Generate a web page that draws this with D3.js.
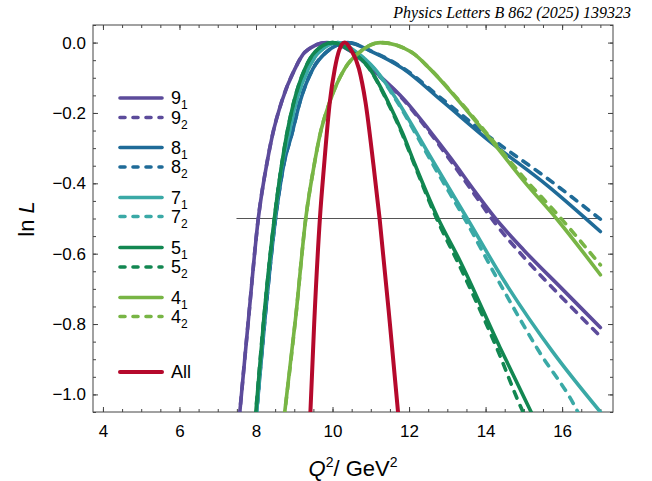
<!DOCTYPE html>
<html>
  <head>
    <meta charset="utf-8" />
    <title>ln L vs Q2</title>
    <script src="https://d3js.org/d3.v7.min.js"></script>
    <style>
      body {
        margin: 0;
        background: #fff;
      }
      text {
        font-family: "Liberation Sans", Arial, sans-serif;
      }
    </style>
  </head>
  <body>

    <svg id="chart"></svg>

    <script>

      // tick labels
      var xTickValues = [4, 6, 8, 10, 12, 14, 16];
      var yTickValues = [0, -0.2, -0.4, -0.6, -0.8, -1.0];

      // series: [Q^2, ln L]
      var s9_1 = [[7.56,-1.07],[7.81,-0.778],[8.06,-0.5],[8.30,-0.334],[8.43,-0.263],[8.67,-0.168],[9.02,-0.074],[9.28,-0.027],[9.85,0],[10.5,-0.025],[11.02,-0.074],[11.9,-0.165],[12.5,-0.245],[13.1,-0.33],[13.7,-0.42],[14.26,-0.5],[15.0,-0.59],[16.0,-0.70],[17.0,-0.81]];
      var s9_2 = [[7.56,-1.07],[7.81,-0.778],[8.06,-0.5],[8.30,-0.334],[8.43,-0.263],[8.67,-0.168],[9.02,-0.074],[9.28,-0.027],[9.85,0],[10.5,-0.026],[11.02,-0.076],[11.9,-0.168],[12.5,-0.25],[13.1,-0.338],[13.7,-0.43],[14.26,-0.515],[15.0,-0.61],[16.0,-0.725],[17.0,-0.835]];
      var s8_1 = [[8.0,-1.07],[8.24,-0.778],[8.51,-0.5],[8.75,-0.334],[8.93,-0.263],[9.15,-0.168],[9.49,-0.074],[9.84,-0.027],[10.4,0],[11.05,-0.027],[11.84,-0.074],[12.86,-0.166],[14.1,-0.28],[15.6,-0.405],[17.0,-0.537]];
      var s8_2 = [[8.0,-1.07],[8.24,-0.778],[8.51,-0.5],[8.75,-0.334],[8.93,-0.263],[9.15,-0.168],[9.49,-0.074],[9.84,-0.027],[10.4,0],[11.05,-0.026],[11.84,-0.072],[12.86,-0.16],[14.1,-0.268],[15.6,-0.385],[17.0,-0.502]];
      var s7_1 = [[8.0,-1.07],[8.22,-0.778],[8.49,-0.5],[8.70,-0.334],[8.85,-0.263],[9.05,-0.168],[9.37,-0.074],[9.65,-0.027],[10.15,0],[10.6,-0.025],[11.1,-0.074],[11.71,-0.168],[12.23,-0.263],[12.67,-0.345],[13.52,-0.5],[14.5,-0.68],[15.76,-0.88],[17.0,-1.05]];
      var s7_2 = [[8.0,-1.07],[8.22,-0.778],[8.49,-0.5],[8.70,-0.334],[8.85,-0.263],[9.05,-0.168],[9.37,-0.074],[9.65,-0.027],[10.15,0],[10.6,-0.026],[11.1,-0.076],[11.71,-0.172],[12.23,-0.27],[12.67,-0.355],[13.45,-0.5],[14.4,-0.69],[15.37,-0.873],[16.41,-1.05],[16.5,-1.07]];
      var s5_1 = [[7.98,-1.07],[8.21,-0.778],[8.48,-0.5],[8.67,-0.348],[8.80,-0.263],[8.99,-0.168],[9.28,-0.074],[9.54,-0.027],[10.0,0],[10.5,-0.025],[10.97,-0.074],[11.45,-0.168],[11.84,-0.26],[12.15,-0.345],[12.76,-0.5],[13.32,-0.618],[14.37,-0.865],[15.19,-1.05],[15.28,-1.07]];
      var s5_2 = [[7.98,-1.07],[8.21,-0.778],[8.48,-0.5],[8.67,-0.348],[8.80,-0.263],[8.99,-0.168],[9.28,-0.074],[9.54,-0.027],[10.0,0],[10.5,-0.026],[10.97,-0.076],[11.45,-0.172],[11.84,-0.265],[12.15,-0.35],[12.74,-0.505],[13.3,-0.63],[14.3,-0.87],[14.98,-1.05],[15.07,-1.07]];
      var s4_1 = [[8.73,-1.07],[9.04,-0.778],[9.30,-0.5],[9.52,-0.348],[9.67,-0.263],[9.93,-0.168],[10.32,-0.074],[10.71,-0.027],[11.25,0],[12.06,-0.027],[12.54,-0.074],[13.3,-0.166],[14.24,-0.29],[15.05,-0.4],[15.85,-0.5],[17.0,-0.66]];
      var s4_2 = [[8.73,-1.07],[9.04,-0.778],[9.30,-0.5],[9.52,-0.348],[9.67,-0.263],[9.93,-0.168],[10.32,-0.074],[10.71,-0.027],[11.25,0],[12.06,-0.027],[12.54,-0.074],[13.3,-0.164],[14.24,-0.285],[15.05,-0.39],[15.85,-0.485],[17.0,-0.632]];
      var sAll = [[9.41,-1.08],[9.52,-0.8],[9.67,-0.5],[9.78,-0.348],[9.93,-0.168],[10.06,-0.074],[10.18,-0.02],[10.32,0],[10.48,-0.02],[10.69,-0.074],[10.86,-0.168],[11.07,-0.348],[11.23,-0.5],[11.5,-0.8],[11.72,-1.06]];

      // legend labels: [main, subscript]
      var seriesNames = [["9","1"],["9","2"],["8","1"],["8","2"],["7","1"],["7","2"],["5","1"],["5","2"],["4","1"],["4","2"],["All",""]];
      var seriesData = [s9_1, s9_2, s8_1, s8_2, s7_1, s7_2, s5_1, s5_2, s4_1, s4_2, sAll];

      // reference level
      var refLevel = -0.5;
      var refRange = [7.49, 17.0];

      // styling
      var colors = ["#5c4b9b","#5c4b9b","#1f6b98","#1f6b98","#3aa9a6","#3aa9a6","#128751","#128751","#78b545","#78b545","#b5092c"];
      var dashed = [false,true,false,true,false,true,false,true,false,true,false];
      var legendY = [98, 117.5, 147.5, 167, 197.5, 216.5, 247.5, 267, 297.5, 316.5, 372];

      var width = 652;
      var height = 481;
      var plotL = 93, plotR = 613, plotT = 25, plotB = 412;

      var svg = d3.select("#chart")
        .attr("width", width)
        .attr("height", height);

      var x = d3.scaleLinear().domain([3.74, 17.33]).range([plotL, plotR]);
      var y = d3.scaleLinear().domain([-1.05, 0.05]).range([plotB, plotT]);

      svg.append("defs").append("clipPath")
        .attr("id", "plotclip")
        .append("rect")
        .attr("x", plotL).attr("y", plotT)
        .attr("width", plotR - plotL).attr("height", plotB - plotT);

      // header
      svg.append("text")
        .attr("x", 631)
        .attr("y", 18)
        .attr("text-anchor", "end")
        .style("font-family", "'Liberation Serif', 'DejaVu Serif', serif")
        .style("font-style", "italic")
        .style("font-size", "16px")
        .text("Physics Letters B 862 (2025) 139323");

      // axes (ticks point inward)
      var minorX = d3.range(8, 35).map(function(i) { return i * 0.5; });
      var minorY = d3.range(-21, 2).map(function(i) { return i * 0.05; });

      function addAxis(axis, tx, ty, labels) {
        var g = svg.append("g")
          .attr("transform", "translate(" + tx + "," + ty + ")")
          .call(axis);
        g.select(".domain").remove();
        g.selectAll("line").attr("stroke", "#444");
        if (labels) {
          g.selectAll("text")
            .attr("fill", "#000")
            .style("font-size", "17px")
            .style("font-family", "'Liberation Sans', Arial, sans-serif");
        }
        return g;
      }

      var fmtY = function(d) { return d3.format(".1f")(d).replace("-", "\u2212"); };

      addAxis(d3.axisBottom(x).tickValues(minorX).tickSize(-3).tickFormat(""), 0, plotB, false);
      addAxis(d3.axisBottom(x).tickValues(xTickValues).tickSize(-5).tickPadding(13).tickFormat(d3.format("d")), 0, plotB, true);
      addAxis(d3.axisTop(x).tickValues(minorX).tickSize(-3).tickFormat(""), 0, plotT, false);
      addAxis(d3.axisTop(x).tickValues(xTickValues).tickSize(-5).tickFormat(""), 0, plotT, false);
      addAxis(d3.axisLeft(y).tickValues(minorY).tickSize(-3).tickFormat(""), plotL, 0, false);
      addAxis(d3.axisLeft(y).tickValues(yTickValues).tickSize(-5).tickPadding(7).tickFormat(fmtY), plotL, 0, true);
      addAxis(d3.axisRight(y).tickValues(minorY).tickSize(-3).tickFormat(""), plotR, 0, false);
      addAxis(d3.axisRight(y).tickValues(yTickValues).tickSize(-5).tickFormat(""), plotR, 0, false);

      svg.append("rect")
        .attr("x", plotL).attr("y", plotT)
        .attr("width", plotR - plotL).attr("height", plotB - plotT)
        .attr("fill", "none")
        .attr("stroke", "#444")
        .attr("stroke-width", 1);

      // reference line
      svg.append("line")
        .attr("x1", x(refRange[0])).attr("x2", x(refRange[1]))
        .attr("y1", y(refLevel)).attr("y2", y(refLevel))
        .attr("stroke", "#555")
        .attr("stroke-width", 1.1);

      // curves
      var line = d3.line()
        .x(function(d) { return x(d[0]); })
        .y(function(d) { return y(d[1]); })
        .curve(d3.curveMonotoneX);

      var curves = svg.append("g").attr("clip-path", "url(#plotclip)");
      seriesData.forEach(function(s, i) {
        curves.append("path")
          .datum(s)
          .attr("d", line)
          .attr("fill", "none")
          .attr("stroke", colors[i])
          .attr("stroke-width", i == 10 ? 4 : 3.6)
          .attr("stroke-linecap", "round")
          .attr("stroke-dasharray", dashed[i] ? "7,8" : null);
      });

      // legend
      var legend = svg.append("g");
      seriesNames.forEach(function(n, i) {
        legend.append("line")
          .attr("x1", 120).attr("x2", 162)
          .attr("y1", legendY[i]).attr("y2", legendY[i])
          .attr("stroke", colors[i])
          .attr("stroke-width", i == 10 ? 4 : 3.6)
          .attr("stroke-linecap", "round")
          .attr("stroke-dasharray", dashed[i] ? "5,8" : null);
        var t = legend.append("text")
          .attr("x", 171)
          .attr("y", legendY[i] + 6)
          .style("font-size", "18px");
        t.append("tspan").text(n[0]);
        if (n[1]) {
          t.append("tspan")
            .attr("dy", 5)
            .style("font-size", "12px")
            .text(n[1]);
        }
      });

      // axis titles
      var xt = svg.append("text")
        .attr("x", 353)
        .attr("y", 476)
        .attr("text-anchor", "middle")
        .style("font-size", "22px");
      xt.append("tspan").style("font-style", "italic").text("Q");
      xt.append("tspan").attr("dy", -9).style("font-size", "14px").text("2");
      xt.append("tspan").attr("dy", 9).text("/ GeV");
      xt.append("tspan").attr("dy", -9).style("font-size", "14px").text("2");

      var yt = svg.append("text")
        .attr("transform", "translate(34,219) rotate(-90)")
        .attr("text-anchor", "middle")
        .style("font-size", "22px");
      yt.append("tspan").text("ln ");
      yt.append("tspan").style("font-style", "italic").text("L");

    </script>

  </body>
</html>
